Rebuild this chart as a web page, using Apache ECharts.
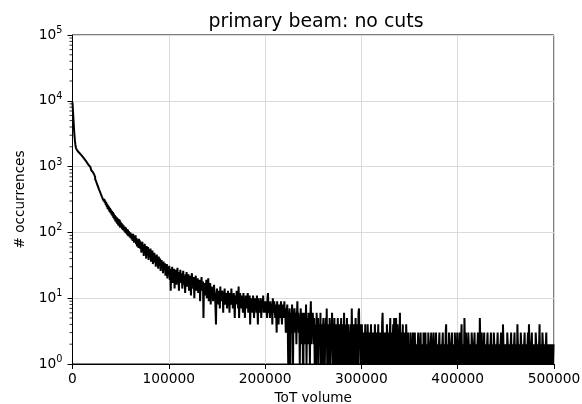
<!DOCTYPE html>
<html><head><meta charset="utf-8">
<script src="https://cdn.jsdelivr.net/npm/echarts@6/dist/echarts.min.js"></script>
<style>html,body{margin:0;padding:0;background:#fff}#c{width:582px;height:404px}</style>
</head><body><div id="c"></div>
<script>
// histogram bin width (ToT volume units)
const binWidth = 500;
// counts per bin; each array holds 100 bins (50000 wide)
const counts0 = [9500,7000,5200,3900,3000,2500,2150,1950,1850,1800,
  1770,1722,1705,1650,1640,1588,1575,1530,1515,1470,
  1458,1415,1398,1360,1342,1300,1285,1240,1228,1185,
  1172,1125,1110,1065,1050,1005,990,940,930,880,
  872,822,812,762,754,708,700,648,645,598,
  600,540,548,495,503,452,463,418,428,382,
  395,350,368,322,345,300,322,280,303,262,
  288,245,272,228,258,218,246,205,235,196,
  222,186,212,176,204,166,194,158,184,148,
  176,142,170,134,164,128,160,124,156,118];
const counts1 = [145,120,138,112,133,108,128,124,103,121,
  98,118,96,112,91,110,88,104,95,84,
  100,82,96,78,91,74,95,80,70,88,
  72,90,66,82,61,78,70,58,80,64,
  75,56,70,49,66,72,52,63,44,60,
  67,48,58,40,62,53,45,60,38,55,
  50,42,57,36,48,44,53,33,46,40,
  49,35,44,30,41,46,33,38,28,43,
  37,31,40,26,35,38,29,34,24,36,
  30,27,34,22,31,26,33,20,29,25];
const counts2 = [24,31,19,28,13,26,22,30,17,25,
  21,28,14,24,19,27,16,23,29,18,
  22,13,25,19,27,17,21,24,14,20,
  26,16,22,18,12,23,19,25,15,21,
  17,23,13,20,18,22,11,19,24,16,
  18,14,21,10,19,16,22,13,17,15,
  20,12,17,15,19,9,16,14,21,13,
  15,18,5,16,12,17,11,14,19,10,
  13,16,20,9,14,12,17,8,13,15,
  11,14,9,13,16,10,12,7,4,12];
const counts3 = [14,10,12,8,13,11,7,15,10,12,
  9,13,11,6,12,10,14,8,11,9,
  12,7,10,13,9,11,6,12,10,8,
  14,9,11,7,10,12,8,5,11,9,
  10,13,8,11,7,15,5,9,12,8,
  10,7,11,9,6,12,8,10,5,9,
  11,8,7,10,12,6,9,8,11,4,
  9,7,10,8,6,11,9,5,8,10,
  7,9,6,11,8,4,10,7,9,6,
  8,10,5,9,7,8,11,6,9,7];
const counts4 = [8,6,9,7,5,10,12,7,6,8,
  5,9,7,6,8,4,10,7,6,9,
  7,5,8,6,3,9,7,6,4,8,
  6,7,5,9,6,4,8,6,7,5,
  9,5,6,3,7,6,8,4,1,6,
  5,7,0,4,6,3,8,5,1,6,
  4,7,5,3,6,2,5,9,4,6,
  3,5,1,4,7,2,5,3,6,0,
  4,6,2,5,3,8,1,4,5,2,
  6,3,4,1,5,9,2,4,3,6];
const counts5 = [4,2,5,1,3,4,0,6,3,2,
  5,1,4,3,2,6,1,4,3,0,
  3,5,2,4,1,3,5,2,7,1,
  4,2,3,0,5,3,1,4,2,6,
  3,1,4,2,5,0,3,4,1,3,
  2,5,1,3,4,2,0,3,5,1,
  4,2,3,1,6,2,4,0,3,2,
  5,1,3,4,2,0,3,2,4,1,
  7,2,3,1,4,2,0,3,5,1,
  3,2,4,1,6,7,2,3,1,4];
const counts6 = [2,4,1,3,2,0,3,2,4,1,
  2,3,1,4,2,0,2,3,1,2,
  4,1,3,2,0,3,2,1,4,2,
  1,3,2,0,2,4,1,3,2,1,
  3,2,1,4,6,2,1,3,2,0,
  3,2,1,4,2,0,3,1,2,3,
  5,1,2,3,1,2,4,0,5,2,
  1,3,5,2,1,4,2,1,3,2,
  6,1,2,3,1,2,4,0,2,1,
  3,2,1,4,2,0,2,3,1,2];
const counts7 = [2,1,3,2,0,2,1,3,2,1,
  2,3,1,2,0,2,1,2,3,1,
  2,0,2,3,1,2,1,2,0,3,
  2,1,2,3,1,2,0,2,1,3,
  2,1,2,0,2,3,1,2,1,2,
  3,0,2,1,2,3,1,2,0,2,
  1,2,3,1,2,0,2,1,2,3,
  1,2,0,2,1,3,4,1,2,0,
  2,1,3,2,1,2,0,2,3,1,
  2,1,2,0,3,2,1,2,1,3];
const counts8 = [2,1,2,0,3,2,1,2,4,1,
  2,0,2,1,5,2,1,3,2,0,
  2,1,3,2,1,2,0,2,1,3,
  2,1,2,0,2,3,1,2,1,2,
  0,2,3,1,2,1,5,2,1,2,
  3,0,2,1,2,3,1,2,0,2,
  1,2,3,1,2,0,2,1,2,3,
  1,2,0,2,1,3,2,1,2,0,
  2,1,2,3,1,2,0,2,1,2,
  3,1,2,0,4,2,1,2,1,2];
const counts9 = [0,2,1,3,2,1,2,0,2,1,
  2,3,1,2,0,2,1,2,3,1,
  2,0,2,1,4,2,1,2,0,2,
  1,3,2,1,2,0,2,1,2,3,
  1,2,0,2,1,2,3,1,4,2,
  0,2,1,2,3,1,2,0,2,1,
  2,1,3,2,0,2,1,2,1,2,
  4,1,2,0,2,1,3,2,1,2,
  0,2,1,2,3,1,2,0,2,1,
  2,1,2,0,2,1,2,2,1,2];

const xTickValues = [0,100000,200000,300000,400000,500000];
const yDecades = [1,10,100,1000,10000,100000];
const minorMultipliers = [2,3,4,5,6,7,8,9];

const counts = counts0.concat(counts1, counts2, counts3, counts4, counts5, counts6, counts7, counts8, counts9);
// empty bins fall below the log axis (clipped), as in the original
const lineData = counts.map((c, i) => [i * binWidth, c > 0 ? c : 0.1]);
lineData.push([counts.length * binWidth, counts[counts.length - 1] || 0.1]);

const minorTickData = [];
yDecades.slice(0, -1).forEach(d => minorMultipliers.forEach(m => minorTickData.push([0, d * m])));

const FONT = 'DejaVu Sans';
const chart = echarts.init(document.getElementById('c'), null, {renderer: 'canvas'});
chart.setOption({
  animation: false,
  backgroundColor: '#fff',
  title: {
    text: 'primary beam: no cuts', left: 311, top: 8, textAlign: 'center',
    textStyle: {fontFamily: FONT, fontSize: 18.9, fontWeight: 'normal', color: '#000'}
  },
  grid: {left: 72.5, right: 28, top: 35, bottom: 40, containLabel: false, outerBoundsMode: 'none',
    show: true, borderColor: '#000', borderWidth: 1, backgroundColor: 'transparent'},
  xAxis: {
    type: 'value', min: xTickValues[0], max: xTickValues[xTickValues.length - 1], interval: 100000,
    axisLine: {show: true, onZero: false, lineStyle: {color: '#000', width: 1}},
    axisTick: {show: true, length: 5, lineStyle: {color: '#000', width: 1}},
    axisLabel: {margin: 8, color: '#000', fontFamily: FONT, fontSize: 13.8, showMinLabel: true, showMaxLabel: true, hideOverlap: false,
      formatter: v => String(v)},
    splitLine: {show: true, lineStyle: {color: '#dadada', width: 1}},
    name: 'ToT volume', nameLocation: 'middle', nameGap: 27,
    nameTextStyle: {color: '#000', fontFamily: FONT, fontSize: 13.6}
  },
  yAxis: {
    type: 'log', logBase: 10, min: yDecades[0], max: yDecades[yDecades.length - 1],
    axisLine: {show: true, lineStyle: {color: '#000', width: 1}},
    axisTick: {show: true, length: 5, lineStyle: {color: '#000', width: 1}},
    axisLabel: {margin: 10, color: '#000', fontFamily: FONT,
      formatter: v => '{b|10}{s|' + Math.round(Math.log10(v)) + '}',
      rich: {
        b: {fontFamily: FONT, fontSize: 13.8, color: '#000'},
        s: {fontFamily: FONT, fontSize: 9.7, color: '#000', padding: [0, 0, 9, 0]}
      }},
    splitLine: {show: true, lineStyle: {color: '#dadada', width: 1}},
    minorTick: {show: false},
    name: '# occurrences', nameLocation: 'middle', nameGap: 40,
    nameTextStyle: {color: '#000', fontFamily: FONT, fontSize: 13.6}
  },
  series: [
    {
      type: 'line', data: lineData, step: 'end', showSymbol: false, symbol: 'none',
      sampling: null, clip: true, z: 3,
      lineStyle: {color: '#000', width: 2}
    },
    {
      type: 'custom', data: minorTickData, silent: true, clip: false, z: 4,
      renderItem: (params, api) => {
        const p = api.coord([0, api.value(1)]);
        return {type: 'line', shape: {x1: p[0] - 3, y1: p[1], x2: p[0], y2: p[1]},
          style: {stroke: '#000', lineWidth: 0.8}};
      }
    }
  ]
});
</script>
</body></html>
